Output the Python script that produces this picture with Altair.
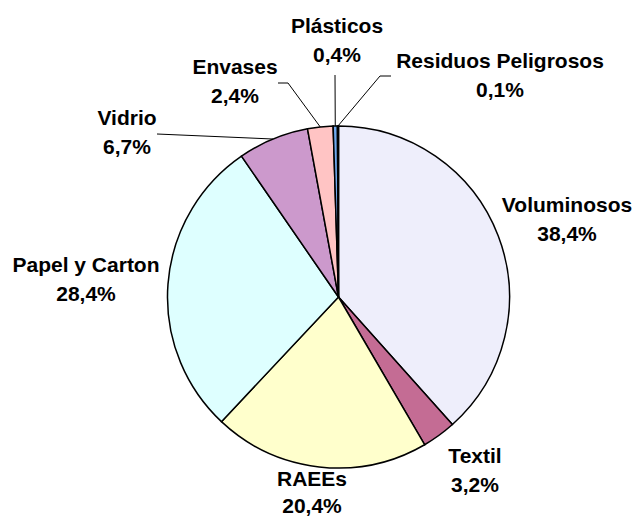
import math
import altair as alt
import pandas as pd

# ---- data ----
names = ["Voluminosos", "Textil", "RAEEs", "Papel y Carton", "Vidrio",
         "Envases", "Plásticos", "Residuos Peligrosos"]
values = [38.4, 3.2, 20.4, 28.4, 6.7, 2.4, 0.4, 0.1]
colors = ["#EEEEFB", "#C46C94", "#FFFFCC", "#DEFFFF", "#CC99CC",
          "#FFC4C4", "#6FA8EE", "#3A6FD8"]

# ---- layout (page pixels) ----
CX, CY, R = 338.5, 297.0, 171.0
label_xy = [(567, 212), (475, 463), (312, 486), (86, 272), (127, 125),
            (235, 74), (337, 33), (500, 68)]
LINE_GAP = [29, 29, 27, 29, 29, 29, 29, 29]
leader_from = {4: [(157, 134)], 5: [(278, 83), (288, 83)],
               6: [(335, 75)], 7: [(391, 76), (380, 76)]}

pie_df = pd.DataFrame({"name": names, "value": values, "idx": range(len(names))})

total = sum(values)
lines = []
cum = 0.0
for i, v in enumerate(values):
    mid = (cum + v / 2) / total * 2 * math.pi
    cum += v
    if i in leader_from:
        pts = list(leader_from[i]) + [(CX + R * math.sin(mid), CY - R * math.cos(mid))]
        for k, (px, py) in enumerate(pts):
            lines.append({"name": names[i], "k": k, "px": px, "py": py})
line_df = pd.DataFrame(lines)

texts = []
for i, (n, v) in enumerate(zip(names, values)):
    lx, ly = label_xy[i]
    texts.append({"t": n, "px": lx, "py": ly})
    texts.append({"t": f"{v:.1f}".replace(".", ",") + "%", "px": lx, "py": ly + LINE_GAP[i]})
text_df = pd.DataFrame(texts)

xs = alt.Scale(domain=[8, 633], nice=False, zero=False)
ys = alt.Scale(domain=[8, 517], nice=False, zero=False, reverse=True)

pie = alt.Chart(pie_df).mark_arc(radius=R, stroke="black", strokeWidth=1.5).encode(
    theta=alt.Theta("value:Q", stack=True),
    color=alt.Color("name:N", scale=alt.Scale(domain=names, range=colors), legend=None),
    order=alt.Order("idx:Q"),
    x=alt.value(CX - 8),
    y=alt.value(CY - 8),
)

leaders = alt.Chart(line_df).mark_line(color="black", strokeWidth=1).encode(
    x=alt.X("px:Q", scale=xs, axis=None),
    y=alt.Y("py:Q", scale=ys, axis=None),
    detail="name:N",
    order="k:Q",
)

labels = alt.Chart(text_df).mark_text(
    font="Liberation Sans", fontWeight="bold", fontSize=21,
    baseline="alphabetic", align="center", color="black",
).encode(
    x=alt.X("px:Q", scale=xs, axis=None),
    y=alt.Y("py:Q", scale=ys, axis=None),
    text="t:N",
)

chart = alt.layer(pie, leaders, labels).properties(
    width=625, height=509, padding=0, autosize=alt.AutoSizeParams(type="none")
).configure_view(stroke=None)

chart.save("out.html", embed_options={"renderer": "svg", "actions": False})
